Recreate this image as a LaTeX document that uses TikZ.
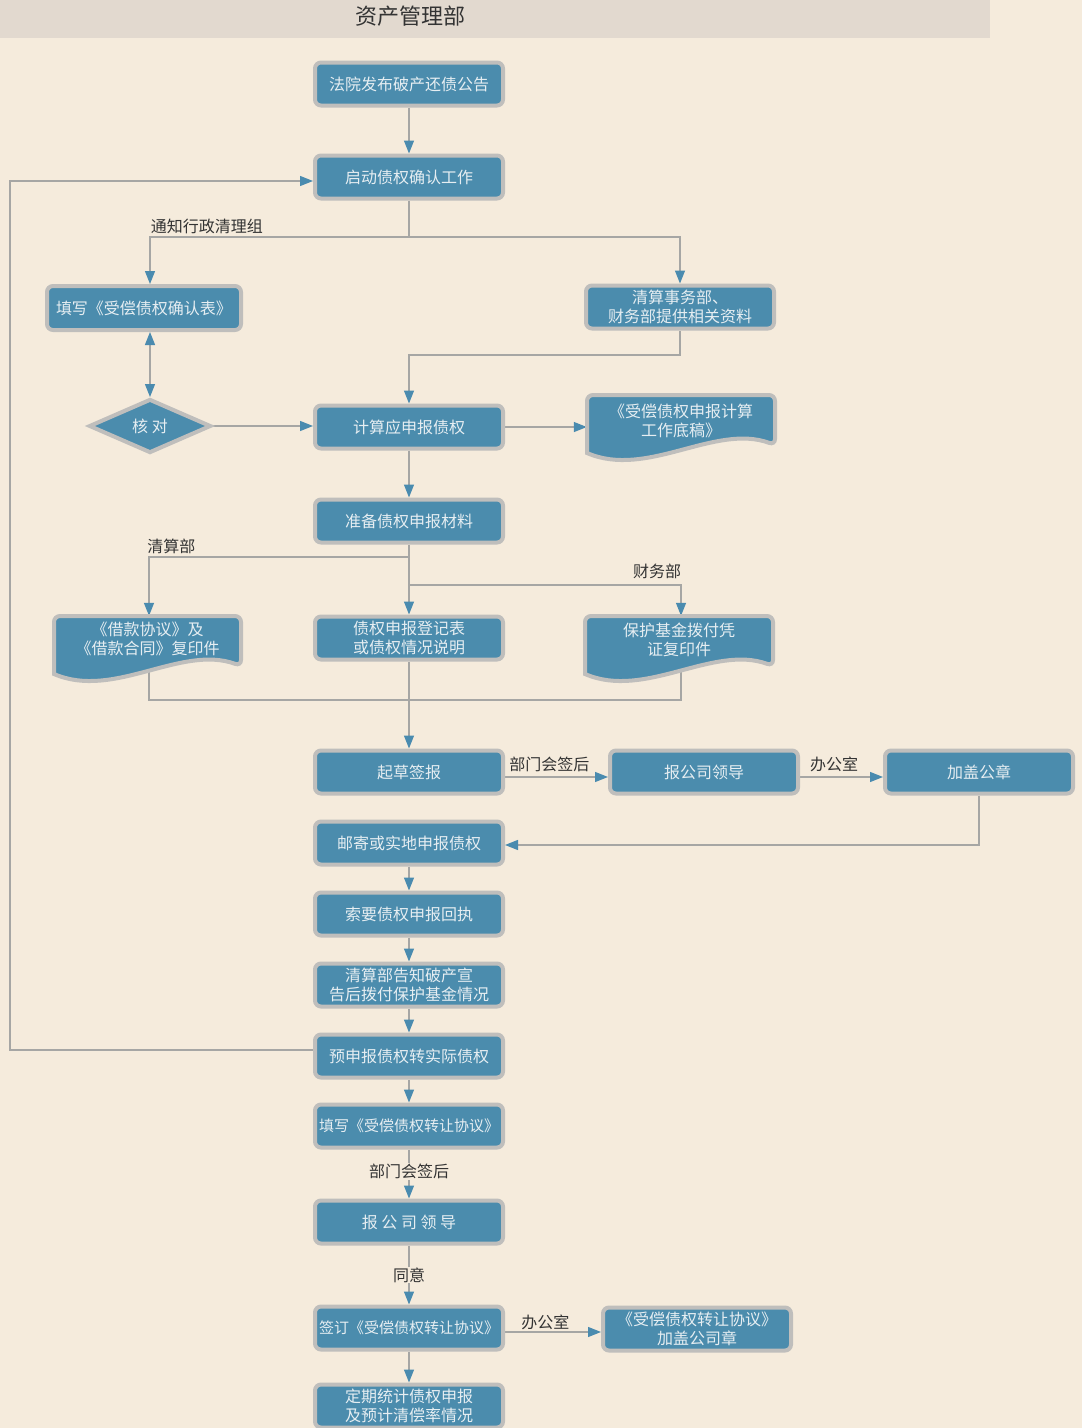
\documentclass[tikz,border=0pt]{standalone}
\usepackage{fontspec}
\setmainfont{Noto Sans CJK SC}
\usetikzlibrary{arrows.meta,calc,backgrounds,shapes.geometric}
\definecolor{paper}{HTML}{F5EBDC}
\definecolor{headbg}{HTML}{E2D9CF}
\definecolor{boxfill}{HTML}{4B8CAD}
\definecolor{boxedge}{HTML}{BFBEBC}
\definecolor{boxtext}{HTML}{E6EEF2}
\definecolor{linec}{HTML}{A6A6A4}
\definecolor{tipc}{HTML}{4A8BAF}
\definecolor{labc}{HTML}{333333}

\begin{document}
\begin{tikzpicture}[x=1pt, y=-1pt,
    box/.style={draw=boxedge, fill=boxfill, line width=4pt, rounded corners=6pt,
        minimum width=188pt, minimum height=43pt, inner sep=0pt, text=boxtext,
        align=center, font=\fontsize{16}{19}\selectfont},
    docshape/.style={draw=boxedge, fill=boxfill, line width=4pt},
    doctext/.style={inner sep=0pt, text=boxtext, align=center, font=\fontsize{16}{19}\selectfont},
    check/.style={diamond, draw=boxedge, fill=boxfill, line width=4pt, minimum width=122pt,
        minimum height=54pt, inner sep=0pt, text=boxtext, font=\fontsize{16}{19}\selectfont},
    lab/.style={text=labc, inner sep=1pt, font=\fontsize{16}{19}\selectfont},
    line/.style={draw=linec, line width=1.3pt},
    arr/.style={line, -{Triangle[length=13pt,width=10pt,color=tipc]}},
    darr/.style={line, {Triangle[length=13pt,width=10pt,color=tipc]}-{Triangle[length=13pt,width=10pt,color=tipc]}}]

\useasboundingbox (0,0) rectangle (1082,1428);

% header
\fill[headbg] (0,0) rectangle (990,38);
\node[text=labc, font=\fontsize{22}{26}\selectfont] (title) at (410,16) {资产管理部};

% main column
\node[box] (fa) at (409,84) {法院发布破产还债公告};
\node[box] (qd) at (409,177) {启动债权确认工作};
\node[box, minimum width=194pt, minimum height=44pt] (tx) at (144,308) {填写《受偿债权确认表》};
\node[box] (zl) at (680,307) {清算事务部、\\财务部提供相关资料};
\node[check] (hd) at (150,426) {核 对};
\node[box] (js) at (409,427) {计算应申报债权};
\node[box] (zb) at (409,521) {准备债权申报材料};
\node[box] (zq) at (409,638) {债权申报登记表\\或债权情况说明};

% document shapes
\foreach \l/\t/\r in {587/395/775, 54/616/241, 585/616/773}
    \draw[docshape] (\l,\t+58) [rounded corners=6pt] -- (\l,\t) -- (\r,\t) -- (\r,\t+50)
        [sharp corners] .. controls (\r-60,\t+28) and (\l+60,\t+84) .. (\l,\t+58) -- cycle;
\node[doctext, minimum width=188pt, minimum height=52pt] (gao) at (681,421) {《受偿债权申报计算\\工作底稿》};
\node[doctext, minimum width=187pt, minimum height=46pt] (jk) at (147.5,639) {《借款协议》及\\《借款合同》复印件};
\node[doctext, minimum width=188pt, minimum height=48pt] (bh) at (679,640) {保护基金拨付凭\\证复印件};

\node[box] (qc) at (409,772) {起草签报};
\node[box] (bg) at (704,772) {报公司领导};
\node[box] (gz) at (979,772) {加盖公章};
\node[box] (yj) at (409,843) {邮寄或实地申报债权};
\node[box] (sy) at (409,914) {索要债权申报回执};
\node[box] (gs) at (409,985) {清算部告知破产宣\\告后拨付保护基金情况};
\node[box] (ys) at (409,1056) {预申报债权转实际债权};
\node[box, font=\fontsize{15}{19}\selectfont] (zr) at (409,1126) {填写《受偿债权转让协议》};
\node[box] (bl) at (409,1222) {报 公 司 领 导};
\node[box, font=\fontsize{15}{19}\selectfont] (qy) at (409,1328) {签订《受偿债权转让协议》};
\node[box] (gy) at (697,1329) {《受偿债权转让协议》\\加盖公司章};
\node[box] (dq) at (409,1406) {定期统计债权申报\\及预计清偿率情况};

\coordinate (j1) at (409,237);
\coordinate (j3) at (680,355);
\coordinate (j4) at (409,557);
\coordinate (j5) at (409,585);
\coordinate (j6) at (409,700);
\coordinate (lt) at (10,1050);

\begin{pgfonlayer}{background}
\fill[paper] (0,0) rectangle (1082,1428);
\fill[headbg] (0,0) rectangle (990,38);
\draw[arr] (fa) -- (qd);
\draw[line] (qd) -- (j1);
\draw[arr] (j1) -| ($(tx.north)+(6,0)$) node[lab, pos=0.39, above=2pt] {通知行政清理组};
\draw[arr] (j1) -| (zl.north);
\draw[darr] ($(tx.south)+(6,0)$) -- (hd.north);
\draw[arr] (hd) -- (hd -| js.west);
\draw[arr] (zl) -- (j3) -| (js);
\draw[arr] (js) -- (js -| gao.west);
\draw[arr] (js) -- (zb);
\draw[arr] (zb) -- (zq);
\draw[arr] (j4) -| ($(jk.north)+(1.5,0)$) node[lab, pos=0.457, above=2pt] {清算部};
\draw[arr] (j5) -| ($(bh.north)+(2,0)$) node[lab, pos=0.456, above=5pt] {财务部};
\draw[line] ($(jk.south)+(1.5,0)$) |- (j6) -| ($(bh.south)+(2,0)$);
\draw[arr] (zq) -- (qc);
\draw[arr] ($(qc.east)+(0,5)$) -- ($(bg.west)+(0,5)$) node[lab, pos=0.43, above=4pt] {部门会签后};
\draw[arr] ($(bg.east)+(0,5)$) -- ($(gz.west)+(0,5)$) node[lab, pos=0.41, above=4pt] {办公室};
\draw[arr] (gz) |- ($(yj.east)+(0,2)$);
\draw[arr] (yj) -- (sy);
\draw[arr] (sy) -- (gs);
\draw[arr] (gs) -- (ys);
\draw[arr] (ys) -- (zr);
\draw[arr] ($(ys.west)+(0,-6)$) -- (lt) |- ($(qd.west)+(0,4)$);
\draw[arr] (zr) -- (bl) node[lab, pos=0.45, fill=paper] {部门会签后};
\draw[arr] (bl) -- (qy) node[lab, midway, fill=paper] {同意};
\draw[arr] ($(qy.east)+(0,4)$) -- ($(gy.west)+(0,3)$) node[lab, pos=0.42, above=1pt] {办公室};
\draw[arr] (qy) -- (dq);
\end{pgfonlayer}
\end{tikzpicture}
\end{document}
